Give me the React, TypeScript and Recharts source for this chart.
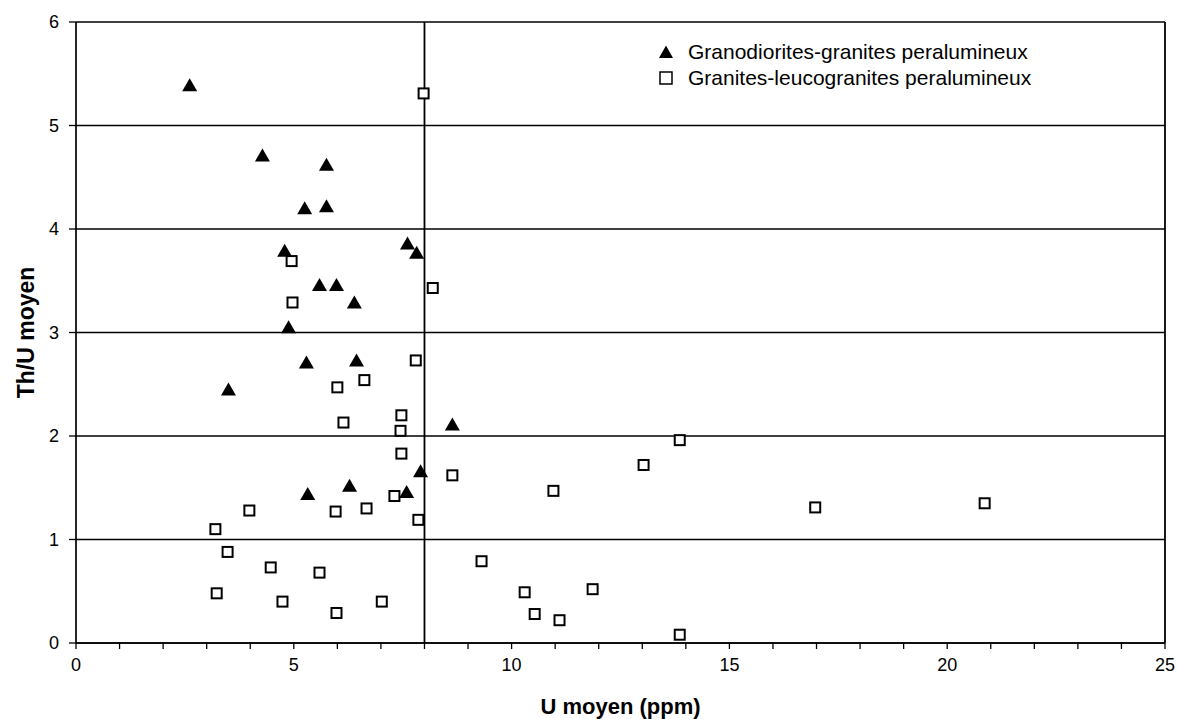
import React from 'react';
import {
  ScatterChart,
  Scatter,
  XAxis,
  YAxis,
  CartesianGrid,
  ReferenceLine,
  Legend
} from 'recharts';

const FONT = '"Liberation Sans", Arial, sans-serif';

// Granodiorites-granites peralumineux (filled triangles)
const granoU = [2.61, 4.28, 5.75, 5.25, 5.75, 4.79, 7.61, 7.82, 5.59, 5.98, 6.39, 4.88, 5.29, 6.44, 3.5, 8.64, 7.91, 6.28, 5.32, 7.59];
const granoThU = [5.39, 4.71, 4.62, 4.2, 4.22, 3.79, 3.86, 3.77, 3.46, 3.46, 3.29, 3.05, 2.71, 2.73, 2.45, 2.11, 1.66, 1.52, 1.44, 1.46];

// Granites-leucogranites peralumineux (open squares)
const leucoU = [
  7.98, 4.95, 8.19, 4.97, 7.8, 6.62, 6.0, 6.14, 7.47, 7.45, 7.47, 8.64, 7.31, 5.96, 6.67, 3.98, 3.2, 7.86,
  3.48, 9.31, 4.47, 5.59, 3.23, 4.74, 5.98, 7.02, 10.3, 11.86, 10.53, 11.1, 13.86, 13.86, 13.03, 10.96, 16.97, 20.86
];
const leucoThU = [
  5.31, 3.69, 3.43, 3.29, 2.73, 2.54, 2.47, 2.13, 2.2, 2.05, 1.83, 1.62, 1.42, 1.27, 1.3, 1.28, 1.1, 1.19,
  0.88, 0.79, 0.73, 0.68, 0.48, 0.4, 0.29, 0.4, 0.49, 0.52, 0.28, 0.22, 0.08, 1.96, 1.72, 1.47, 1.31, 1.35
];

const xTicks = [0, 1, 2, 3, 4, 5, 6, 7, 8, 9, 10, 11, 12, 13, 14, 15, 16, 17, 18, 19, 20, 21, 22, 23, 24, 25];
const yTicks = [0, 1, 2, 3, 4, 5, 6];

const seriesNames = ['Granodiorites-granites peralumineux', 'Granites-leucogranites peralumineux'];

const granoData = granoU.map((u, i) => ({ u, thu: granoThU[i] }));
const leucoData = leucoU.map((u, i) => ({ u, thu: leucoThU[i] }));

const TriangleDot = (props: any) => {
  const { cx, cy } = props;
  if (cx == null || cy == null) return null;
  return <path d={`M${cx},${cy - 7} L${cx + 7.5},${cy + 6} L${cx - 7.5},${cy + 6} Z`} fill="#000" />;
};

const SquareDot = (props: any) => {
  const { cx, cy } = props;
  if (cx == null || cy == null) return null;
  return <rect x={cx - 5} y={cy - 5} width={10} height={10} fill="#fff" stroke="#000" strokeWidth={2} />;
};

const XTitle = (props: any) => {
  const { viewBox } = props;
  return (
    <text
      x={viewBox.x + viewBox.width / 2}
      y={viewBox.y + 71}
      textAnchor="middle"
      fontFamily={FONT}
      fontWeight="bold"
      fontSize={22}
      fill="#000"
    >
      U moyen (ppm)
    </text>
  );
};

const YTitle = (props: any) => {
  const { viewBox } = props;
  const cx = 26;
  const cy = viewBox.y + viewBox.height / 2;
  return (
    <text
      x={cx}
      y={cy}
      transform={`rotate(-90, ${cx}, ${cy})`}
      textAnchor="middle"
      dominantBaseline="central"
      fontFamily={FONT}
      fontWeight="bold"
      fontSize={23}
      fill="#000"
    >
      Th/U moyen
    </text>
  );
};

const renderLegend = () => (
  <div style={{ fontFamily: FONT, fontSize: 21, color: '#000', lineHeight: '26px' }}>
    {seriesNames.map((name, i) => (
      <div key={name} style={{ display: 'flex', alignItems: 'center', whiteSpace: 'nowrap' }}>
        <svg width={16} height={16} style={{ marginRight: 14 }}>
          {i === 0 ? (
            <path d="M8,1.5 L15,14 L1,14 Z" fill="#000" />
          ) : (
            <rect x={2} y={2} width={12} height={12} fill="#fff" stroke="#000" strokeWidth={1.5} />
          )}
        </svg>
        <span>{name}</span>
      </div>
    ))}
  </div>
);

const App: React.FC = () => {
  return (
    <div style={{ position: 'absolute', left: 0, top: 0, background: '#fff' }}>
      <ScatterChart width={1178} height={719} margin={{ top: 22, right: 13, bottom: 16, left: 16 }}>
        <CartesianGrid horizontal vertical={false} stroke="#000" strokeWidth={1.7} />
        <XAxis
          type="number"
          dataKey="u"
          domain={[0, 25]}
          ticks={xTicks}
          interval={0}
          allowDataOverflow
          tickFormatter={(v: number) => (v % 5 === 0 ? String(v) : '')}
          tick={{ fontSize: 18, fill: '#000', fontFamily: FONT }}
          tickSize={6}
          tickMargin={9}
          stroke="#000"
          axisLine={{ stroke: '#000', strokeWidth: 1.7 }}
          tickLine={{ stroke: '#000', strokeWidth: 1.3 }}
          height={60}
          label={<XTitle />}
        />
        <YAxis
          type="number"
          dataKey="thu"
          domain={[0, 6]}
          ticks={yTicks}
          interval={0}
          allowDataOverflow
          tick={{ fontSize: 18, fill: '#000', fontFamily: FONT }}
          tickSize={7}
          tickMargin={10}
          axisLine={{ stroke: '#000', strokeWidth: 1.7 }}
          tickLine={{ stroke: '#000', strokeWidth: 1.3 }}
          width={60}
          label={<YTitle />}
        />
        <ReferenceLine x={8} stroke="#000" strokeWidth={1.8} />
        <ReferenceLine x={25} stroke="#000" strokeWidth={1.8} />
        <Legend
          layout="vertical"
          align="center"
          verticalAlign="middle"
          content={renderLegend}
          wrapperStyle={{ left: 658, top: 39, width: 'auto', height: 'auto' }}
        />
        <Scatter
          name={seriesNames[0]}
          data={granoData}
          shape={<TriangleDot />}
          isAnimationActive={false}
        />
        <Scatter
          name={seriesNames[1]}
          data={leucoData}
          shape={<SquareDot />}
          isAnimationActive={false}
        />
      </ScatterChart>
    </div>
  );
};

export default App;
